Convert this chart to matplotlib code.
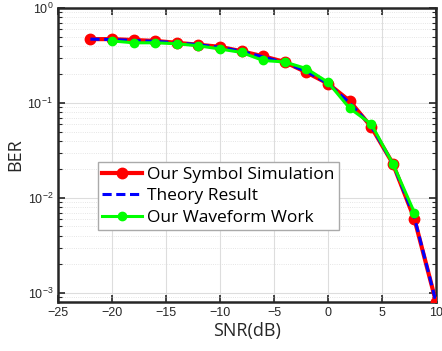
import numpy as np
import matplotlib.pyplot as plt
from matplotlib.ticker import LogLocator, NullFormatter

# datos
snr_sym = [-22, -20, -18, -16, -14, -12, -10, -8, -6, -4, -2, 0, 2, 4, 6, 8, 10]
ber_sym = [0.47, 0.47, 0.46, 0.45, 0.43, 0.41, 0.39, 0.35, 0.31, 0.27, 0.21,
           0.16, 0.105, 0.056, 0.023, 0.006, 0.0008]

snr_theory = snr_sym
ber_theory = [0.47, 0.465, 0.455, 0.445, 0.43, 0.41, 0.385, 0.35, 0.305, 0.265, 0.215,
              0.16, 0.1, 0.057, 0.023, 0.0062, 0.0008]

snr_wave = [-20, -18, -16, -14, -12, -10, -8, -6, -4, -2, 0, 2, 4, 6, 8]
ber_wave = [0.45, 0.43, 0.43, 0.42, 0.40, 0.37, 0.34, 0.28, 0.27, 0.23,
            0.165, 0.088, 0.06, 0.023, 0.007]

fig = plt.figure(figsize=(4.42, 3.51), dpi=100)
ax = fig.add_axes([58/442, 1 - 302/351, (436-58)/442, (302-8)/351])

ax.semilogy(snr_sym, ber_sym, '-o', color='red', lw=3, ms=7.5,
            label='Our Symbol Simulation', zorder=3)
ax.semilogy(snr_theory, ber_theory, '--', color='blue', lw=2.2, dashes=(3, 1.5),
            label='Theory Result', zorder=4)
ax.semilogy(snr_wave, ber_wave, '-o', color='#00ff00', lw=2.2, ms=6,
            label='Our Waveform Work', zorder=5)

ax.set_xlim(-25, 10)
ax.set_ylim(8e-4, 1)
ax.set_xticks(np.arange(-25, 11, 5))
ax.yaxis.set_major_locator(LogLocator(base=10, numticks=10))
ax.yaxis.set_minor_locator(LogLocator(base=10, subs=np.arange(2, 10), numticks=20))
ax.yaxis.set_minor_formatter(NullFormatter())

ax.grid(True, which='major', color='#dddddd', lw=0.8)
ax.grid(True, which='minor', color='#dddddd', lw=0.6, ls=':')
ax.set_axisbelow(True)

ax.tick_params(which='both', direction='in', top=True, right=True,
               labelsize=9, colors='#262626')
ax.tick_params(which='major', length=5, width=1.2)
ax.tick_params(which='minor', length=3, width=0.8)
for s in ax.spines.values():
    s.set_linewidth(1.8)
    s.set_color('#262626')

for lab in ax.get_xticklabels() + ax.get_yticklabels():
    lab.set_fontfamily('Liberation Sans')

ax.set_xlabel('SNR(dB)', fontsize=13, family='Open Sans', color='#262626', labelpad=2)
ax.set_ylabel('BER', fontsize=13, family='Open Sans', color='#262626', labelpad=2)

leg = ax.legend(loc='lower left', bbox_to_anchor=(0.105, 0.245),
                prop={'family': 'Open Sans', 'size': 12.5}, fancybox=False,
                framealpha=1, edgecolor='#aaaaaa', handlelength=2.3,
                handletextpad=0.3, borderpad=0.25, labelspacing=0.3,
                borderaxespad=0)
leg.get_frame().set_linewidth(1.0)

plt.savefig('out.png', dpi=100)
